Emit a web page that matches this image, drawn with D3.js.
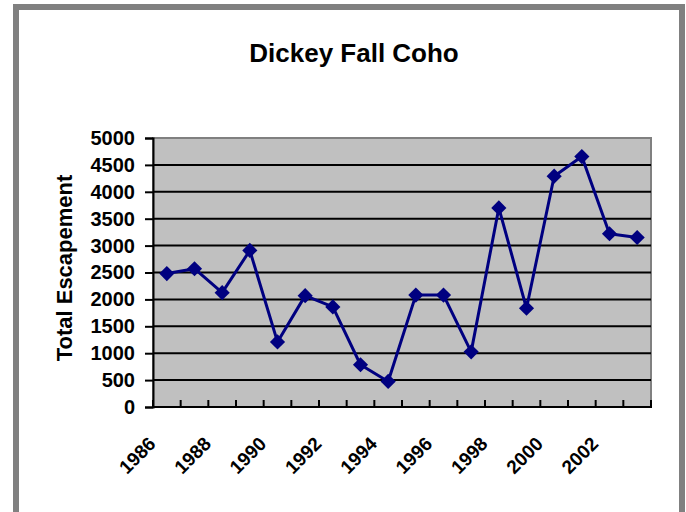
<!DOCTYPE html>
<html>
<head>
<meta charset="utf-8">
<script src="https://cdn.jsdelivr.net/npm/d3@7"></script>
<style>
    body { margin: 0; background: #fff; }
    svg { display: block; font-family: Arial, "Liberation Sans", sans-serif; font-weight: bold; }
</style>
</head>
<body>
<div id="chart"></div>
<script>
// Data
const years = [1986, 1987, 1988, 1989, 1990, 1991, 1992, 1993, 1994, 1995,
               1996, 1997, 1998, 1999, 2000, 2001, 2002, 2003];
const escapement = [2480, 2570, 2125, 2910, 1210, 2070, 1860, 785, 475, 2080,
                    2080, 1025, 3700, 1835, 4290, 4655, 3220, 3150];
const yTicks = [0, 500, 1000, 1500, 2000, 2500, 3000, 3500, 4000, 4500, 5000];
const xLabelYears = [1986, 1988, 1990, 1992, 1994, 1996, 1998, 2000, 2002];

const width = 686, height = 512;
const plot = { left: 153, right: 651, top: 138, bottom: 407 };

const svg = d3.select('#chart')
    .append('svg')
    .attr('width', width)
    .attr('height', height);

// Outer frame
svg.append('rect')
    .attr('x', 16).attr('y', 7)
    .attr('width', 666).attr('height', 530)
    .attr('fill', '#fff')
    .attr('stroke', '#808080')
    .attr('stroke-width', 6);

const x = d3.scaleBand()
    .domain(years)
    .range([plot.left, plot.right])
    .paddingInner(0).paddingOuter(0);

const y = d3.scaleLinear()
    .domain([0, 5000])
    .range([plot.bottom, plot.top]);

// Plot area
svg.append('rect')
    .attr('x', plot.left).attr('y', plot.top)
    .attr('width', plot.right - plot.left)
    .attr('height', plot.bottom - plot.top)
    .attr('fill', '#c0c0c0')
    .attr('stroke', '#808080')
    .attr('stroke-width', 2);

// Gridlines
svg.append('g')
    .selectAll('line')
    .data(yTicks.filter(d => d > 0 && d < 5000))
    .join('line')
    .attr('x1', plot.left).attr('x2', plot.right)
    .attr('y1', d => y(d)).attr('y2', d => y(d))
    .attr('stroke', '#000')
    .attr('stroke-width', 2);

// Y axis
const yAxis = svg.append('g')
    .attr('transform', `translate(${plot.left},0)`)
    .call(d3.axisLeft(y).tickValues(yTicks).tickSize(8).tickPadding(10).tickFormat(d3.format('d')));
yAxis.select('.domain').attr('stroke', '#000').attr('stroke-width', 2);
yAxis.selectAll('.tick line').attr('stroke', '#000').attr('stroke-width', 2);
yAxis.selectAll('.tick text')
    .attr('fill', '#000')
    .attr('font-size', 20)
    .attr('font-family', 'Arial, "Liberation Sans", sans-serif')
    .attr('font-weight', 'bold');

// X axis: inward ticks at category boundaries
const boundaries = years.map(d => x(d)).concat([plot.right]);
svg.append('line')
    .attr('x1', plot.left - 1).attr('x2', plot.right + 1)
    .attr('y1', plot.bottom).attr('y2', plot.bottom)
    .attr('stroke', '#000').attr('stroke-width', 2);
svg.append('g')
    .selectAll('line')
    .data(boundaries)
    .join('line')
    .attr('x1', d => d).attr('x2', d => d)
    .attr('y1', plot.bottom).attr('y2', plot.bottom - 7)
    .attr('stroke', '#000').attr('stroke-width', 2);

// X labels, rotated
svg.append('g')
    .selectAll('text')
    .data(xLabelYears)
    .join('text')
    .attr('transform', d => `translate(${x(d) + x.bandwidth() / 2 - 10},445) rotate(-45)`)
    .attr('text-anchor', 'end')
    .attr('font-size', 19)
    .attr('fill', '#000')
    .text(d => d);

// Series line
const line = d3.line()
    .x((d, i) => x(years[i]) + x.bandwidth() / 2)
    .y(d => y(d));

svg.append('path')
    .datum(escapement)
    .attr('d', line)
    .attr('fill', 'none')
    .attr('stroke', '#000080')
    .attr('stroke-width', 3)
    .attr('stroke-linejoin', 'round');

// Diamond markers
const diamond = d3.symbol().type(d3.symbolSquare).size(115);
svg.append('g')
    .selectAll('path')
    .data(escapement)
    .join('path')
    .attr('d', diamond)
    .attr('transform', (d, i) => `translate(${x(years[i]) + x.bandwidth() / 2},${y(d)}) rotate(45)`)
    .attr('fill', '#000080');

// Title
svg.append('text')
    .attr('x', 354).attr('y', 62)
    .attr('text-anchor', 'middle')
    .attr('font-size', 26)
    .attr('fill', '#000')
    .text('Dickey Fall Coho');

// Y axis title
svg.append('text')
    .attr('transform', 'translate(72,268) rotate(-90)')
    .attr('text-anchor', 'middle')
    .attr('font-size', 22)
    .attr('fill', '#000')
    .text('Total Escapement');
</script>
</body>
</html>
